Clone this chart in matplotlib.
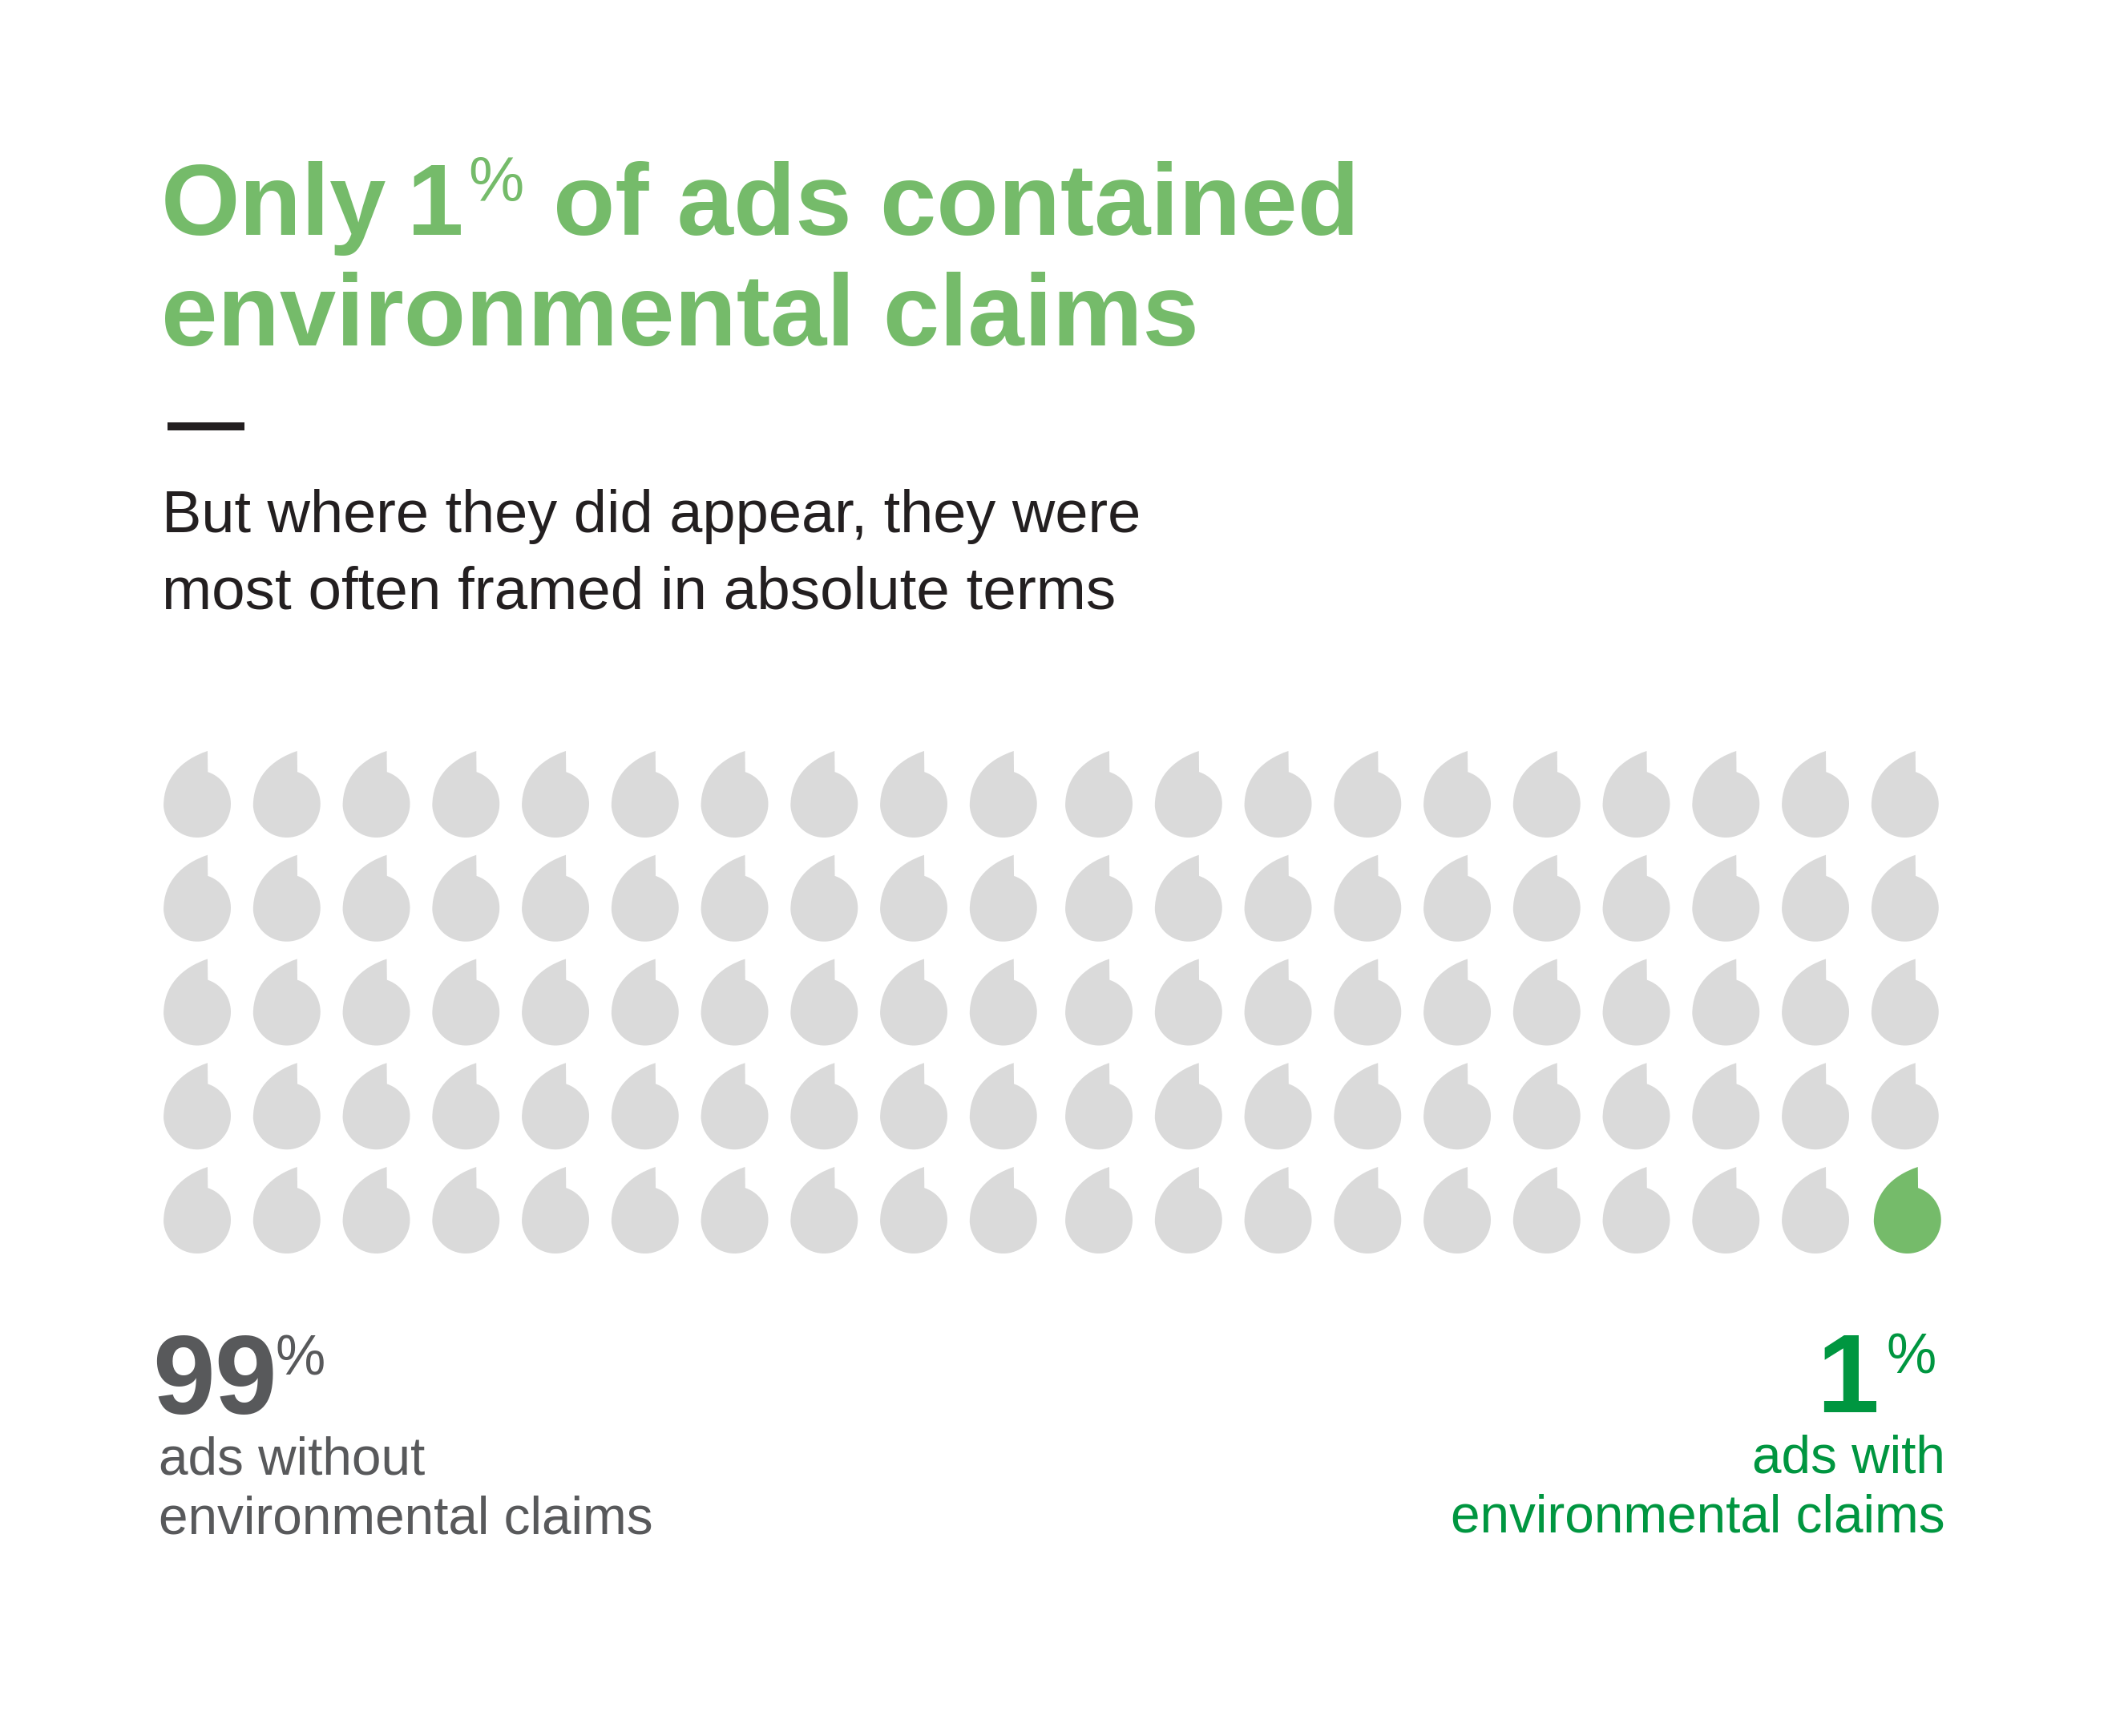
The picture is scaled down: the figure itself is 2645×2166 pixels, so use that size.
import numpy as np
import matplotlib
matplotlib.use("Agg")
import matplotlib.pyplot as plt
from matplotlib.patches import PathPatch, Rectangle
from matplotlib.path import Path

# figures
share_without = 99
share_with = 1
n_cols = 20
n_rows = 5

title_lines = ["Only", "1", "of ads contained", "environmental claims"]
subtitle_lines = ["But where they did appear, they were", "most often framed in absolute terms"]
label_without = ["ads without", "environmental claims"]
label_with = ["ads with", "environmental claims"]

WIDTH, HEIGHT = 2645, 2166
DPI = 100
FONT = "Liberation Sans"

TITLE_GREEN = "#75bb6a"
DARK_GREEN = "#009640"
GREY_DROP = "#dadada"
GREY_TEXT = "#58595b"
INK = "#231f20"

# waffle block, in pixels
GRID_X, GRID_Y = 204, 937
COL_W, ROW_H = 111.75, 129.75
PANEL_GAP = 7.5  # extra space between the two halves of the block


def px(size):
    return size * 72 / DPI


def drop_path():
    """Speech-mark shape, one cell unit = one column/row step"""
    r = 42
    cx, cy = 42, 66
    start = np.arctan2(27 - cy, 55 - cx)
    angles = np.linspace(start, np.pi * 0.98, 60)
    arc = np.column_stack([cx + r * np.cos(angles), cy + r * np.sin(angles)])
    verts = [(55, 0)] + [tuple(p) for p in arc]
    codes = [Path.MOVETO] + [Path.LINETO] * len(arc)
    verts += [(0, 34), (22, 11), (55, 0), (55, 0)]
    codes += [Path.CURVE4, Path.CURVE4, Path.CURVE4, Path.CLOSEPOLY]
    verts = np.array(verts, dtype=float) / [COL_W, ROW_H]
    return Path(verts, codes)


fig = plt.figure(figsize=(WIDTH / DPI, HEIGHT / DPI), dpi=DPI, facecolor="white")

# full page axes in pixel units, for the text
ax = fig.add_axes([0, 0, 1, 1])
ax.set_xlim(0, WIDTH)
ax.set_ylim(HEIGHT, 0)
ax.axis("off")


def put(x, y, s, size, color, weight="normal", ha="left"):
    ax.text(x, y, s, fontsize=px(size), color=color, fontweight=weight, ha=ha,
            va="baseline", family=FONT)


# title
put(201, 293, title_lines[0], 126.5, TITLE_GREEN, "bold")
put(508, 293, title_lines[1], 126.5, TITLE_GREEN, "bold")
put(584, 251, "%", 78, TITLE_GREEN)
put(690, 293, title_lines[2], 126.5, TITLE_GREEN, "bold")
put(201, 431, title_lines[3], 126.5, TITLE_GREEN, "bold")

ax.add_patch(Rectangle((209, 527), 96, 10, facecolor=INK, edgecolor="none"))

# subtitle
put(202, 664, subtitle_lines[0], 74, INK)
put(202, 759, subtitle_lines[1], 74.6, INK)

# waffle, filled row by row so the last cells carry the claims share
grid_w = n_cols * COL_W + PANEL_GAP + 10
ax_w = fig.add_axes([GRID_X / WIDTH, 1 - (GRID_Y + n_rows * ROW_H) / HEIGHT,
                     grid_w / WIDTH, n_rows * ROW_H / HEIGHT])
ax_w.set_xlim(0, grid_w / COL_W)
ax_w.set_ylim(n_rows, 0)
ax_w.axis("off")

base = drop_path()
for i in range(n_cols * n_rows):
    row, col = divmod(i, n_cols)
    has_claim = i >= share_without
    x = col
    if col >= n_cols // 2:
        x += PANEL_GAP / COL_W
    # the highlighted drop sits a touch to the right of its column
    if has_claim:
        x += 3 / COL_W
    path = Path(base.vertices + [x, row], base.codes)
    ax_w.add_patch(PathPatch(path, facecolor=TITLE_GREEN if has_claim else GREY_DROP,
                             edgecolor="none"))

# left figure
put(190, 1764, str(share_without), 140, GREY_TEXT, "bold")
put(344, 1715, "%", 70, GREY_TEXT)
put(198, 1839, label_without[0], 65.7, GREY_TEXT)
put(198, 1914, label_without[1], 65.7, GREY_TEXT)

# right figure
put(2344, 1762, str(share_with), 140, DARK_GREEN, "bold", ha="right")
put(2354, 1713, "%", 70, DARK_GREEN)
put(2427, 1837, label_with[0], 65.7, DARK_GREEN, ha="right")
put(2427, 1912, label_with[1], 65.7, DARK_GREEN, ha="right")

fig.savefig("out.png", dpi=DPI, facecolor="white")
